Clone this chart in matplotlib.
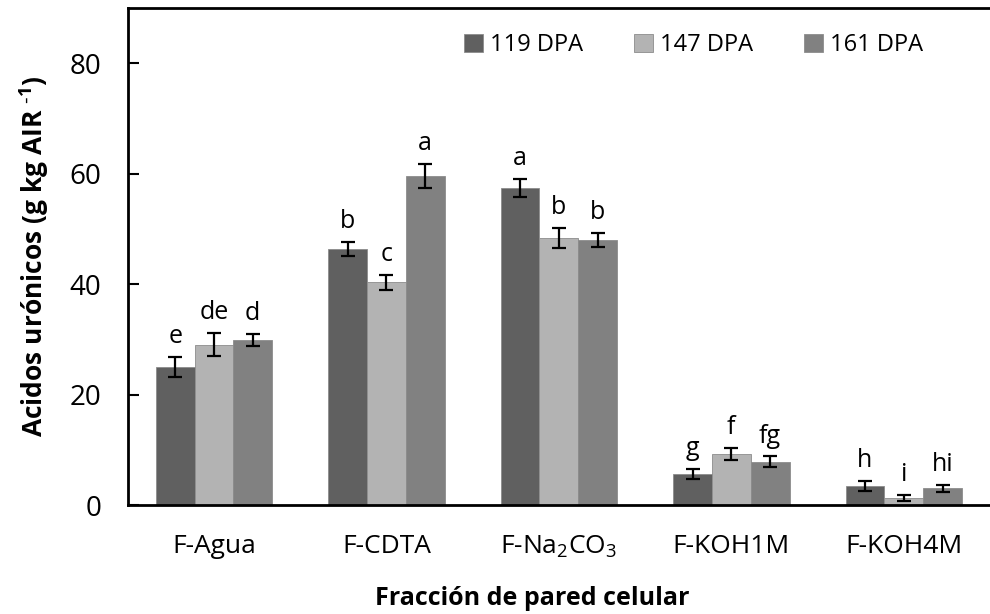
import matplotlib
matplotlib.use("Agg")
import matplotlib.pyplot as plt
import numpy as np

plt.rcParams["font.family"] = ["Open Sans", "DejaVu Sans"]
plt.rcParams["mathtext.default"] = "regular"

# Fracciones de pared celular
categories = ["F-Agua", "F-CDTA", "F-Na$_2$CO$_3$", "F-KOH1M", "F-KOH4M"]
series = ["119 DPA", "147 DPA", "161 DPA"]
colors = ["#606060", "#b3b3b3", "#818181"]

vals_119 = [25.0, 46.3, 57.4, 5.7, 3.5]
vals_147 = [29.0, 40.3, 48.4, 9.2, 1.3]
vals_161 = [29.9, 59.6, 48.0, 7.8, 3.0]
err_119 = [1.8, 1.3, 1.6, 0.9, 0.9]
err_147 = [2.1, 1.3, 1.8, 1.1, 0.6]
err_161 = [1.1, 2.2, 1.3, 1.0, 0.7]
lab_119 = ["e", "b", "a", "g", "h"]
lab_147 = ["de", "c", "b", "f", "i"]
lab_161 = ["d", "a", "b", "fg", "hi"]

values = [vals_119, vals_147, vals_161]
errors = [err_119, err_147, err_161]
letters = [lab_119, lab_147, lab_161]

fig = plt.figure(figsize=(9.9, 6.14), dpi=100)
ax = fig.add_axes([0.129, 0.1775, 0.871, 0.8095])

x = np.arange(len(categories))
w = 0.225
for i in range(3):
    xs = x + (i - 1) * w
    ax.bar(xs, values[i], w, color=colors[i], edgecolor="#8c8c8c", linewidth=0.6,
           label=series[i], zorder=2)
    ax.errorbar(xs, values[i], yerr=errors[i], fmt="none", ecolor="black",
                elinewidth=1.6, capsize=5, capthick=1.6, zorder=3)
    for xi, v, e, t in zip(xs, values[i], errors[i], letters[i]):
        ax.text(xi, v + e + 2.5, t, ha="center", va="baseline", fontsize=18)

ax.set_xlim(-0.5, len(categories) - 0.5)
ax.set_ylim(0, 90)
ax.set_yticks([0, 20, 40, 60, 80])
ax.set_xticks(x)
ax.set_xticklabels(categories)
ax.tick_params(axis="y", direction="in", length=8, width=1.5, labelsize=20, pad=19)
ax.tick_params(axis="x", length=0, labelsize=19, pad=21)

for s in ["left", "bottom", "top"]:
    ax.spines[s].set_linewidth(2)
ax.spines["right"].set_visible(False)

ax.set_ylabel("Acidos urónicos (g kg AIR $^{\\text{-}1}$)", fontsize=19, fontweight="bold",
              labelpad=13)
ax.set_xlabel("Fracción de pared celular", fontsize=18, fontweight="bold")
ax.xaxis.set_label_coords(0.469, -0.163)

ax.legend(loc="center left", ncol=3, frameon=False, fontsize=17,
          handlelength=0.8, handleheight=0.8, handletextpad=0.3,
          columnspacing=2.15, borderpad=0, borderaxespad=0,
          bbox_to_anchor=(464 / 990, 1 - 45 / 614), bbox_transform=fig.transFigure)

plt.savefig("out.png", dpi=100)
